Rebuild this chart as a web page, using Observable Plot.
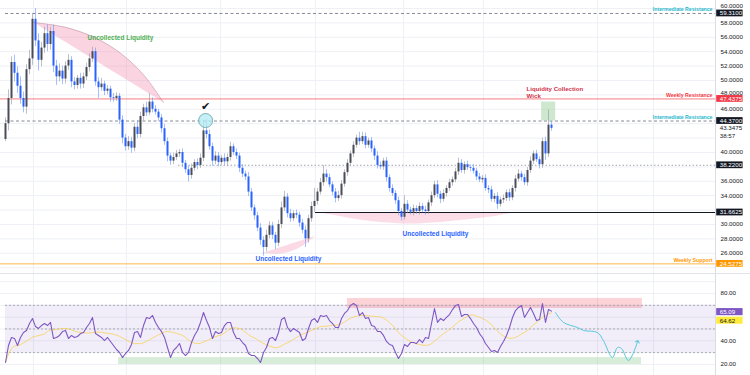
<!DOCTYPE html>
<html><head><meta charset="utf-8">
<script src="https://cdn.jsdelivr.net/npm/d3@7"></script>
<script src="https://cdn.jsdelivr.net/npm/@observablehq/plot@0.6"></script>
<style>
html,body{margin:0;padding:0;background:#fff;}
#wrap{width:750px;height:375px;overflow:hidden;position:relative;background:#fff;}
#wrap svg{display:block;}
#sep{height:1px;background:#e0e3eb;width:750px;}
</style></head><body><div id="wrap"></div>
<script>
// ---------- DATA ----------
const firstOpen = 41.8;
const closes = [44.0,47.5,52.5,51.0,49.2,47.5,46.3,51.5,53.0,58.5,
55.5,52.8,54.5,56.5,55.0,56.8,52.0,50.5,51.3,50.2,
52.0,52.8,49.8,49.3,50.3,49.5,50.5,51.8,53.0,54.0,
49.8,49.0,49.5,48.5,48.8,47.6,47.5,47.8,44.5,42.0,
40.8,41.5,40.6,43.5,42.5,45.0,46.2,45.5,47.0,46.0,
45.6,44.8,43.3,41.5,39.5,38.8,39.3,39.8,40.0,38.5,
37.6,36.8,37.8,38.6,38.2,39.2,43.0,42.5,40.8,38.8,
39.5,38.6,39.2,38.7,39.3,40.8,40.0,39.5,37.8,37.0,
36.6,34.5,32.3,31.2,29.5,27.8,26.8,28.5,29.8,28.5,
27.4,30.0,32.3,33.8,31.5,30.8,31.5,31.3,30.2,29.2,
28.0,30.8,32.5,33.2,34.5,35.8,37.0,36.5,35.5,34.5,
33.6,34.0,35.6,37.2,38.5,39.8,41.0,42.0,41.5,42.2,
41.0,41.6,40.5,39.5,38.2,38.0,38.8,36.5,35.0,34.3,
33.3,31.8,31.0,32.8,32.0,31.7,32.2,31.8,32.5,32.0,
31.8,33.0,34.0,35.5,34.2,33.5,34.3,35.0,35.8,36.2,
37.3,38.5,37.5,38.3,37.9,37.8,37.4,36.6,36.2,36.4,
35.0,34.8,33.5,33.9,32.8,33.4,33.6,34.4,33.7,35.0,
36.3,37.0,36.5,35.8,37.5,38.8,39.8,39.0,38.3,41.5,
39.8,43.8,43.3475];
const wickUp = [0.8,1.2,0.8,1.0,0.9,1.3,0.9,0.7,1.2,0.8,
1.5,1.0,0.8,0.9,1.2,0.6,0.9,0.8,1.0,0.7,
0.6,0.8,0.5,0.6,0.4,0.7,0.5,0.6,0.7,0.6,
0.5,0.6,0.8,0.4,0.5,0.4,0.6,0.5,0.4,0.6,
0.5,0.7,0.6,0.5,0.9,0.6,0.5,0.8,1.2,0.6,
0.5,0.4,0.5,0.6,0.5,0.4,0.6,0.5,0.4,0.5,
0.4,0.5,0.6,0.4,0.5,0.6,1.4,1.6,0.6,0.5,
0.6,0.5,0.4,0.6,0.5,0.6,0.4,0.5,0.4,0.5,
0.4,0.6,0.5,0.4,0.5,0.6,0.5,0.7,0.6,0.5,
0.4,0.6,0.8,0.8,0.5,0.6,0.4,0.5,0.4,0.5,
0.6,0.5,0.6,1.8,0.5,0.6,1.2,0.6,0.5,0.4,
0.5,0.6,0.5,0.4,0.5,0.4,0.5,0.4,0.8,0.6,
0.5,0.4,0.5,0.4,0.6,0.5,0.4,0.5,0.4,0.5,
0.4,0.5,0.4,1.2,0.5,0.4,0.5,0.4,0.5,0.4,
0.5,0.4,0.5,0.5,0.6,0.4,0.5,0.4,0.5,0.4,
0.5,0.7,0.5,0.4,0.5,0.4,0.5,0.4,0.5,0.4,
0.5,0.4,0.5,0.4,0.5,0.4,0.5,0.4,0.5,0.4,
0.5,0.6,0.4,0.5,0.4,0.6,0.4,0.5,0.4,0.5,
0.6,2.1,0.5];
const wickDn = [0.3,1.0,0.9,1.2,1.0,0.8,0.8,1.0,0.7,0.9,
0.8,1.5,0.9,0.7,1.0,0.8,0.9,1.2,0.7,0.8,
0.7,0.6,0.8,0.6,0.5,0.7,0.6,0.5,0.6,0.5,
0.6,1.5,0.5,0.6,0.5,0.6,0.5,0.4,0.6,0.8,
0.6,0.5,0.7,0.5,0.6,0.5,0.6,0.5,0.4,0.5,
0.4,0.5,0.6,0.5,0.8,0.6,0.5,0.4,0.5,0.6,
0.5,0.9,0.5,0.4,0.6,0.4,0.5,0.6,0.5,0.7,
0.5,0.6,0.4,0.5,0.6,0.5,0.4,0.5,0.6,0.5,
0.5,0.6,0.5,0.6,0.5,0.7,1.2,0.6,0.5,0.6,
0.9,0.5,0.6,0.5,0.6,0.5,0.4,0.5,0.6,0.5,
1.2,0.6,0.5,0.8,0.5,0.4,0.5,0.6,0.4,0.5,
0.6,0.4,0.5,0.4,0.5,0.4,0.5,0.4,0.5,0.4,
0.5,0.4,0.5,0.6,0.5,0.4,0.5,0.6,0.5,0.4,
0.5,0.6,0.5,0.4,0.5,0.4,0.5,0.4,0.5,0.4,
0.5,0.4,0.5,0.4,0.5,0.6,0.4,0.5,0.4,0.5,
0.4,0.5,0.4,0.5,0.4,0.5,0.4,0.5,0.4,0.5,
0.4,0.5,0.4,0.5,0.7,0.4,0.5,0.4,0.5,0.4,
0.5,0.4,0.5,0.4,0.5,0.4,0.5,0.4,0.6,0.5,
0.9,0.5,0.4];
const rsiValues = [21.6,36,42.8,42,36,42.8,47,48.7,54.6,58.8,
52,50.4,52.9,54.6,52.9,55.5,41.9,42.8,44.5,47.8,
48.7,41.9,44.5,42.8,43.6,46.1,47,51.2,54.6,59.7,
46.1,44.5,42.8,40.2,42.8,39.4,36,32.6,30.1,25.8,
29.2,31.8,36.9,47,47.8,42.8,52.9,59.7,58.8,61.4,
55.5,51.2,47.8,42.8,34.3,25.8,31.8,34.3,37.7,30.1,
27.5,30.1,38.5,44.5,48.7,55.5,63.9,57.1,51.2,41.9,
47.8,46.1,47,52.9,55.5,55.5,47,41.9,41.9,38.5,
36,29.2,27.5,27.5,25,21.6,30.1,34.3,41.9,42.8,
40.2,47,58,59.7,51.2,47.8,50.4,48.7,47,40.2,
41.9,50.4,57.1,58.8,55.5,61.4,60.6,61.4,57.1,54.6,
51.2,51.2,58.8,63.1,65.6,69.8,71.5,69.8,61.4,63.9,
58.8,59.7,52.9,52,47.8,47.8,44.5,39.4,36.9,36,
30.1,25,29.2,36.9,35.2,38.5,38.5,37.7,41,38.5,
42.8,41.9,54.6,67.3,55.5,58.8,57.1,59.7,62.2,66.4,
69.8,70.7,60.6,62.2,62.2,58.8,54.6,51.2,46.1,42.8,
37.7,34.3,30.9,31.8,30.1,35.2,39.4,44.5,51.2,59.7,
65.6,68.2,69.8,59.7,63.9,68.2,63.1,57.1,58,71.5,
55.5,66.5,65.09];
const rsiMaLast = 64.62;
const countdown = "38:57";
// forecast sketch on RSI pane (bar index, RSI value)
const fcIdx = [183.3,186,190.7,192.7,197.3,199.3,202.3,204,205.3,207.7,210.7];
const fcVal = [63.9,55.5,51.2,48.7,47.0,40.2,25.8,34.3,33.5,23.3,39.4];
// horizontal levels
const levelValues = [59.31, 47.4375, 44.37, 38.22, 31.6625, 24.5275];
const levelNames = ["Intermediate Resistance","Weekly Resistance","Intermediate Resistance","","","Weekly Support"];
// uncollected liquidity zones (bar index, chord price, arc price)
const z1i = [9.33,20.23,30.03,38.7,46.23,52.67];
const z1chord = [58.06,55.26,52.75,50.52,48.59,46.94];
const z1arc = [58.06,57.35,55.89,53.67,50.68,46.94];
const z2i = [85.67,90.6,95.2,99.43,103.33];
const z2chord = [25.97,26.63,27.24,27.81,28.33];
const z2arc = [25.97,25.88,26.22,27.06,28.33];
const z3i = [104.33,115,125,135,145,155,163.33,170];
const z3chord = [31.66,31.66,31.66,31.66,31.66,31.66,31.66,31.66];
const z3arc = [31.66,30.83,30.28,30.07,30.28,30.69,31.11,31.66];
// visible axis ticks (the others sit under the value boxes)
const priceTicks = [26,28,30,34,36,40,46,50,52,54,56,58];
const priceTicksNearBox = [48,60];
const rsiTicks = [20,40,80];
const gridXIdx = [9.3,40.3,71.7,103.3,132.7,159.3,197.3,216];

// ---------- BUILD ----------
const FONT = "Liberation Sans, Arial, sans-serif";
const W = 750, MR = 35, PH = 273, RH = 101;
const X0 = -5/3, X1 = 710/3;
const BX1 = X1 + 0.4, BX2 = X1 + 9.2, TX = X1 + 1.4, XE = X1 - 1;

const candles = closes.map((c, i) => {
  const o = i ? closes[i-1] : firstOpen;
  return {i, o, c, h: Math.max(o, c) + wickUp[i], l: Math.min(o, c) - wickDn[i], up: c >= o};
});
const rsiData = rsiValues.map((v, i) => ({i, v}));
const fc = fcIdx.map((i, k) => ({i, v: fcVal[k]}));
const zone = (ix, ch, ar) => ix.map((i, k) => ({i, a: ch[k], b: ar[k]}));
const z1 = zone(z1i, z1chord, z1arc), z2 = zone(z2i, z2chord, z2arc), z3 = zone(z3i, z3chord, z3arc);
const lv = levelValues.map((v, k) => ({v, t: v.toFixed(4), name: levelNames[k], k}));
const lvColor = ["#131722","#f23645","#131722","#131722","#131722","#ff9800"];
const nameColor = ["#1fb8cd","#f23645","#1fb8cd","","","#ff9800"];
const last = closes[closes.length-1];

const pricePlot = Plot.plot({
  width: W, height: PH, marginLeft: 0, marginRight: MR, marginTop: 0, marginBottom: 0,
  style: {background: "#fff", fontFamily: FONT, fontSize: "6px", overflow: "hidden"},
  x: {domain: [X0, X1], axis: null},
  y: {domain: [23.19, 61.11], label: null},
  marks: [
    Plot.gridY(d3.range(24, 61, 2), {stroke: "#eef0f5", strokeOpacity: 1}),
    Plot.ruleX(gridXIdx, {stroke: "#eef0f5", strokeOpacity: 1}),
    // zones
    Plot.areaY(z1, {x: "i", y1: "a", y2: "b", curve: "catmull-rom", fill: "#f48fb1", fillOpacity: 0.38}),
    Plot.line(z1, {x: "i", y: "b", curve: "catmull-rom", stroke: "#c8a2b2", strokeWidth: 0.7}),
    Plot.areaY(z2, {x: "i", y1: "a", y2: "b", curve: "catmull-rom", fill: "#f48fb1", fillOpacity: 0.33}),
    Plot.areaY(z3, {x: "i", y1: "a", y2: "b", curve: "catmull-rom", fill: "#f48fb1", fillOpacity: 0.3}),
    // levels
    Plot.ruleY([levelValues[0]], {x1: 0, x2: X1, stroke: "#787b86", strokeDasharray: "3,2.5", strokeWidth: 0.9}),
    Plot.ruleY([levelValues[1]], {x1: X0, x2: X1, stroke: "#f77c80", strokeWidth: 1}),
    Plot.ruleY([levelValues[2]], {x1: 0, x2: X1, stroke: "#787b86", strokeDasharray: "3,2.5", strokeWidth: 0.9}),
    Plot.ruleY([levelValues[3]], {x1: 57.7, x2: X1, stroke: "#9598a1", strokeDasharray: "1.3,2.2", strokeWidth: 1.1}),
    Plot.ruleY([levelValues[4]], {x1: 103.3, x2: X1, stroke: "#131722", strokeWidth: 1}),
    Plot.ruleY([levelValues[5]], {x1: X0, x2: X1, stroke: "#ffb74d", strokeWidth: 1}),
    // liquidity collection wick box
    Plot.rect([0], {x1: 178.7, x2: 183.4, y1: 44.37, y2: 47.0, fill: "#a5d6a7", fillOpacity: 0.55}),
    // candles
    Plot.ruleX(candles, {x: "i", y1: "l", y2: "h", stroke: d => d.up ? "#8a8d96" : "#5b8cff", strokeOpacity: 0.55, strokeWidth: 1}),
    Plot.ruleX(candles, {x: "i", y1: "o", y2: "c", stroke: d => d.up ? "#4a4d57" : "#2962ff", strokeWidth: 2}),
    // circle + check
    Plot.dot([0], {x: 66.7, y: 44.44, r: 7, fill: "#b2ebf2", fillOpacity: 0.75, stroke: "#5f9ea8", strokeWidth: 0.8}),
    Plot.text(["✔"], {x: 66.7, y: 46.4, fontSize: 11, fill: "#131722", fontFamily: "DejaVu Sans"}),
    // chart labels
    Plot.text(["Uncollected Liquidity"], {x: 38.3, y: 55.97, fill: "#4caf50", fontSize: 6.5, fontWeight: "bold"}),
    Plot.text(["Uncollected Liquidity"], {x: 94.3, y: 25.28, fill: "#2962ff", fontSize: 6.5, fontWeight: "bold"}),
    Plot.text(["Uncollected Liquidity"], {x: 143.3, y: 28.75, fill: "#2962ff", fontSize: 6.5, fontWeight: "bold"}),
    Plot.text(["Liquidity Collection", "Wick"], {x: 173.7, y: [48.75, 47.85], textAnchor: "start", fill: "#d0304a", fontSize: 6.1, fontWeight: "bold"}),
    Plot.text(lv.filter(d => d.name), {x: XE, y: "v", text: "name", dy: -4, textAnchor: "end", fill: d => nameColor[d.k], fontSize: 5.2, fontWeight: "bold"}),
    // right axis
    Plot.ruleX([X1], {stroke: "#d9dce3"}),
    Plot.axisY({anchor: "right", ticks: priceTicks, tickFormat: d => d.toFixed(4), tickSize: 0, tickPadding: 5, textAnchor: "start", fill: "#131722", fontSize: 6.2, label: null}),
    Plot.text(priceTicksNearBox, {x: X1, y: d => d, text: d => d.toFixed(4), dx: 5, dy: -2, textAnchor: "start", fill: "#131722", fontSize: 6.2}),
    Plot.text([last.toFixed(4), countdown], {x: TX, y: [last, last - 1.0], textAnchor: "start", fill: "#131722", fontSize: 6.2}),
    Plot.rect(lv, {x1: BX1, x2: BX2, y1: d => d.v - 0.47, y2: d => d.v + 0.47, fill: d => lvColor[d.k]}),
    Plot.text(lv, {x: TX, y: "v", text: "t", textAnchor: "start", fill: "#fff", fontSize: 6.2})
  ]
});

const rsiPlot = Plot.plot({
  width: W, height: RH, marginLeft: 0, marginRight: MR, marginTop: 0, marginBottom: 0,
  style: {background: "#fff", fontFamily: FONT, fontSize: "6px", overflow: "hidden"},
  x: {domain: [X0, X1], axis: null},
  y: {domain: [10.61, 96.08], label: null},
  marks: [
    Plot.gridY([10,20,30,40,50,60,70,80,90], {stroke: "#eef0f5", strokeOpacity: 1}),
    Plot.ruleX(gridXIdx, {stroke: "#eef0f5", strokeOpacity: 1}),
    Plot.rect([0], {x1: 0, x2: X1, y1: 30, y2: 70, fill: "#7e57c2", fillOpacity: 0.1}),
    Plot.rect([0], {x1: 37.7, x2: 212, y1: 19.9, y2: 25.8, fill: "#4caf50", fillOpacity: 0.22}),
    Plot.rect([0], {x1: 114, x2: 212.3, y1: 67.3, y2: 75.8, fill: "#f23645", fillOpacity: 0.22}),
    Plot.ruleY([70, 50, 30], {x1: 0, x2: X1, stroke: "#a3a6af", strokeDasharray: "2,2", strokeWidth: 0.9}),
    Plot.lineY(rsiData, Plot.windowY({k: 14, anchor: "end"}, {x: "i", y: "v", stroke: "#f7d154", strokeWidth: 0.8})),
    Plot.line(rsiData, {x: "i", y: "v", stroke: "#7e57c2", strokeWidth: 1.1}),
    Plot.line(fc, {x: "i", y: "v", curve: "catmull-rom", stroke: "#56c8dc", strokeWidth: 1, markerEnd: "arrow"}),
    Plot.ruleX([X1], {stroke: "#d9dce3"}),
    Plot.axisY({anchor: "right", ticks: rsiTicks, tickFormat: d => d.toFixed(2), tickSize: 0, tickPadding: 5, textAnchor: "start", fill: "#131722", fontSize: 6.2, label: null}),
    Plot.rect([rsiValues[rsiValues.length-1]], {x1: BX1, x2: BX2, y1: d => d - 3.0, y2: d => d + 3.0, dy: 1, fill: "#7e57c2"}),
    Plot.text([rsiValues[rsiValues.length-1].toFixed(2)], {x: TX, y: d => +d, dy: 1, textAnchor: "start", fill: "#fff", fontSize: 6.2}),
    Plot.rect([rsiMaLast], {x1: BX1, x2: BX2, y1: d => d - 3.0, y2: d => d + 3.0, dy: 9, fill: "#ffeb3b"}),
    Plot.text([rsiMaLast.toFixed(2)], {x: TX, y: d => +d, dy: 9, textAnchor: "start", fill: "#131722", fontSize: 6.2})
  ]
});

const wrap = document.getElementById("wrap");
wrap.append(pricePlot);
const sep = document.createElement("div"); sep.id = "sep"; wrap.append(sep);
wrap.append(rsiPlot);
</script></body></html>
